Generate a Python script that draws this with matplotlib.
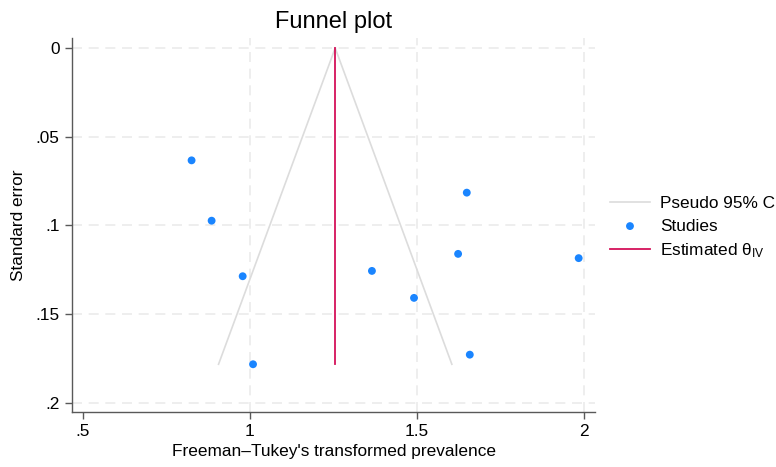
"""
Funnel plot of study-level Freeman-Tukey transformed prevalence
against standard error, with pseudo 95% confidence limits.
"""

import numpy as np
import matplotlib
matplotlib.use("Agg")
import matplotlib.pyplot as plt


# Study estimates (transformed prevalence) and their standard errors
study_effect = [0.826, 0.886, 0.979, 1.010, 1.366, 1.492, 1.650, 1.624, 1.659, 1.985]
study_se = [0.0633, 0.0973, 0.1286, 0.1782, 0.1256, 0.1408, 0.0815, 0.1160, 0.1728, 0.1184]

# Pooled inverse-variance estimate
theta_iv = 1.256

x_ticks = [0.5, 1.0, 1.5, 2.0]
x_tick_labels = [".5", "1", "1.5", "2"]
y_ticks = [0, 0.05, 0.1, 0.15, 0.2]
y_tick_labels = ["0", ".05", ".1", ".15", ".2"]

BLUE = "#1a85ff"
RED = "#d41159"
CI_GREY = "#dcdcdc"
GRID_GREY = "#ebebeb"
AXIS_GREY = "#595959"

plt.rcParams["font.family"] = ["Liberation Sans", "DejaVu Sans"]
plt.rcParams["mathtext.fontset"] = "custom"
plt.rcParams["mathtext.rm"] = "Liberation Sans"
plt.rcParams["mathtext.it"] = "Liberation Sans"

FONT_SIZE = 12.4


def main() -> None:
    fig = plt.figure(figsize=(7.76, 4.67), dpi=100)
    ax = fig.add_axes([0.0928, 0.1178, 0.6740, 0.8008])

    se_max = max(study_se)
    se_line = np.array([0.0, se_max])
    ax.plot(theta_iv - 1.96 * se_line, se_line, color=CI_GREY, lw=1.2,
            label="Pseudo 95% CI", zorder=2)
    ax.plot(theta_iv + 1.96 * se_line, se_line, color=CI_GREY, lw=1.2, zorder=2)
    ax.scatter(study_effect, study_se, s=32, color=BLUE, edgecolors="none",
               label="Studies", zorder=4)
    ax.plot([theta_iv, theta_iv], [0, se_max], color=RED, lw=1.3,
            label="Estimated θ$_{\\mathrm{IV}}$", zorder=3)

    ax.set_xlim(0.468, 2.034)
    ax.set_ylim(0.2051, -0.00564)
    ax.set_xticks(x_ticks)
    ax.set_xticklabels(x_tick_labels)
    ax.set_yticks(y_ticks)
    ax.set_yticklabels(y_tick_labels, rotation=0)

    ax.grid(True, color=GRID_GREY, lw=1.2, ls=(0, (6, 4)), zorder=0)
    ax.xaxis.get_gridlines()[0].set_visible(False)
    ax.set_axisbelow(True)

    for side in ["top", "right"]:
        ax.spines[side].set_visible(False)
    for side in ["left", "bottom"]:
        ax.spines[side].set_color(AXIS_GREY)
        ax.spines[side].set_linewidth(1.0)
    ax.tick_params(axis="both", colors=AXIS_GREY, labelcolor="black",
                   labelsize=FONT_SIZE, length=5, width=1.0, pad=4)

    ax.set_xlabel("Freeman–Tukey's transformed prevalence", fontsize=FONT_SIZE, labelpad=3)
    ax.set_ylabel("Standard error", fontsize=FONT_SIZE, labelpad=7)
    ax.set_title("Funnel plot", fontsize=17, pad=7)

    fig.legend(loc="center left", bbox_to_anchor=(0.766, 0.512), frameon=False,
               fontsize=FONT_SIZE, handlelength=2.33, handletextpad=0.58,
               labelspacing=0.42)

    fig.savefig("out.png", dpi=100)
    plt.close(fig)


if __name__ == "__main__":
    main()
